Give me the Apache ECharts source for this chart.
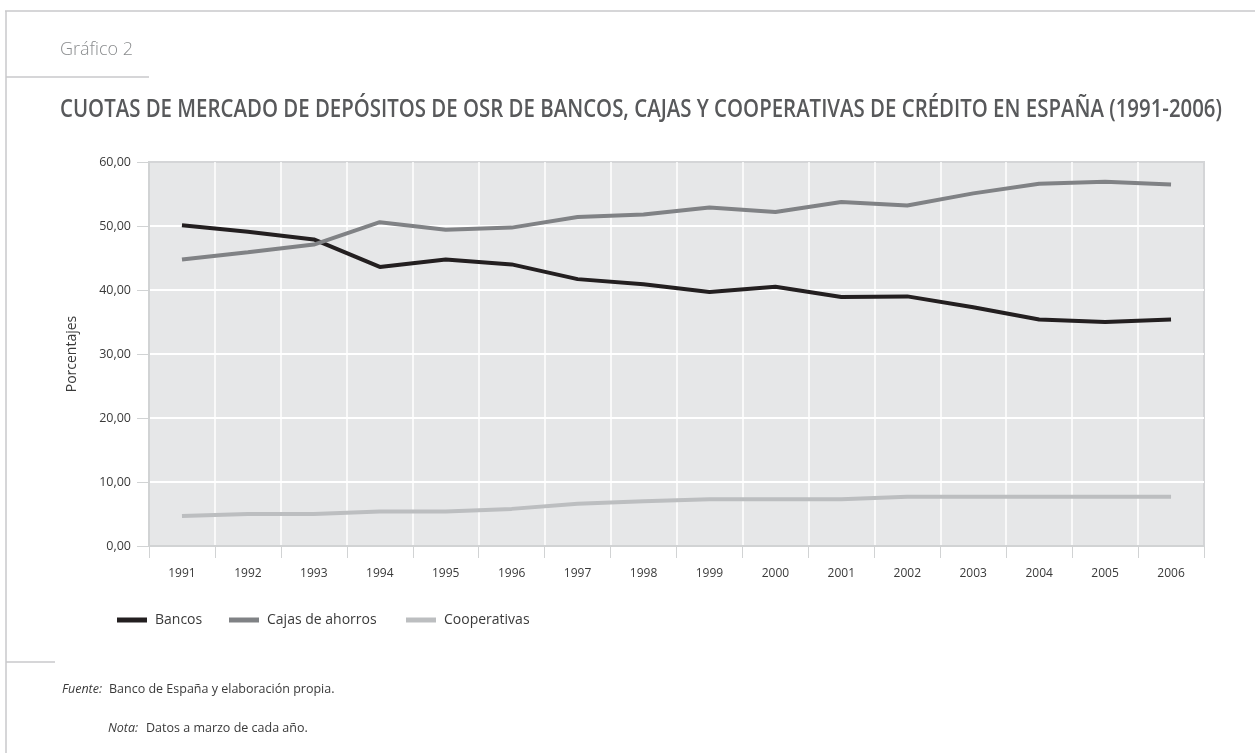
<!DOCTYPE html>
<html>
<head>
<meta charset="utf-8">
<script src="https://cdn.jsdelivr.net/npm/echarts@6/dist/echarts.min.js"></script>
<style>
html,body{margin:0;padding:0;background:#fff;}
#chart{width:1255px;height:753px;}
</style>
</head>
<body>
<div id="chart"></div>
<script>
const years = ['1991','1992','1993','1994','1995','1996','1997','1998','1999','2000','2001','2002','2003','2004','2005','2006'];
const bancos = [50.1, 49.1, 47.9, 43.6, 44.75, 44.0, 41.7, 40.9, 39.7, 40.5, 38.9, 39.0, 37.3, 35.4, 35.0, 35.4];
const cajas = [44.75, 45.9, 47.1, 50.6, 49.4, 49.75, 51.4, 51.8, 52.9, 52.2, 53.75, 53.2, 55.1, 56.6, 56.9, 56.5];
const cooperativas = [4.7, 5.0, 5.0, 5.4, 5.4, 5.8, 6.6, 7.0, 7.3, 7.3, 7.3, 7.7, 7.7, 7.7, 7.7, 7.7];
const seriesNames = ['Bancos', 'Cajas de ahorros', 'Cooperativas'];
const titleText = 'CUOTAS DE MERCADO DE DEPÓSITOS DE OSR DE BANCOS, CAJAS Y COOPERATIVAS DE CRÉDITO EN ESPAÑA (1991-2006)';

const FONT = '"Open Sans", "Noto Sans", sans-serif';
const colors = ['#231f20', '#808285', '#bcbec0'];
const TITLE_FONT = '600 26px ' + FONT;

// measure title to fit the reference width
const mctx = document.createElement('canvas').getContext('2d');
mctx.font = TITLE_FONT;
const titleW = mctx.measureText(titleText).width;
const titleScale = 1162 / titleW;

const chart = echarts.init(document.getElementById('chart'), null, {renderer: 'canvas'});
const lineColor = '#c8c9cb';

const option = {
  backgroundColor: '#ffffff',
  animation: false,
  grid: {
    left: 149, top: 162, width: 1055, height: 384,
    show: true, backgroundColor: '#e6e7e8', borderColor: '#d4d5d7', borderWidth: 2
  },
  legend: [0,1,2].map((i) => ({
    data: [seriesNames[i]],
    left: [112, 224, 401][i],
    top: 608,
    icon: 'rect',
    itemWidth: 30,
    itemHeight: 5,
    textStyle: {fontFamily: FONT, fontSize: 14, color: '#3a3a3a', padding: [0,0,0,3]}
  })),
  xAxis: {
    type: 'category',
    data: years,
    boundaryGap: true,
    axisLine: {show: true, lineStyle: {color: '#d1d3d4', width: 2}},
    axisTick: {show: true, length: 12, lineStyle: {color: '#d1d3d4', width: 1}},
    axisLabel: {fontFamily: FONT, fontSize: 12, color: '#3a3a3a', margin: 22},
    splitLine: {show: true, interval: 0, showMinLine: false, showMaxLine: false, lineStyle: {color: '#ffffff', width: 1.5}}
  },
  yAxis: {
    type: 'value',
    min: 0, max: 60, interval: 10,
    name: 'Porcentajes',
    nameLocation: 'middle',
    nameGap: 70,
    nameTextStyle: {fontFamily: FONT, fontSize: 14, color: '#3a3a3a'},
    axisLine: {show: true, lineStyle: {color: '#d1d3d4', width: 2}},
    axisTick: {show: true, length: 12, lineStyle: {color: '#d1d3d4', width: 1}},
    axisLabel: {
      fontFamily: FONT, fontSize: 12.5, color: '#3a3a3a', margin: 18,
      formatter: (v) => v.toFixed(2).replace('.', ',')
    },
    splitLine: {show: true, showMinLine: false, showMaxLine: false, lineStyle: {color: '#ffffff', width: 2}}
  },
  series: [bancos, cajas, cooperativas].map((d, i) => ({
    name: seriesNames[i],
    type: 'line',
    data: d,
    symbol: 'none',
    color: colors[i],
    lineStyle: {width: 4, color: colors[i], cap: 'butt'},
    z: 3 + i
  })),
  graphic: [
    {type: 'line', shape: {x1: 5, y1: 11, x2: 1255, y2: 11}, style: {stroke: lineColor, lineWidth: 1.5}},
    {type: 'line', shape: {x1: 6, y1: 11, x2: 6, y2: 753}, style: {stroke: lineColor, lineWidth: 1.5}},
    {type: 'line', shape: {x1: 6, y1: 77, x2: 149, y2: 77}, style: {stroke: lineColor, lineWidth: 1.5}},
    {type: 'line', shape: {x1: 6, y1: 662, x2: 55, y2: 662}, style: {stroke: lineColor, lineWidth: 1.5}},
    {type: 'text', x: 60, y: 50, style: {text: 'Gráfico 2', font: '300 18px ' + FONT, fill: '#8a8c8e', textVerticalAlign: 'middle'}},
    {type: 'text', x: 60, y: 110, scaleX: titleScale, style: {text: titleText, font: TITLE_FONT, fill: '#58595b', textVerticalAlign: 'middle'}},
    {type: 'text', x: 62, y: 689, style: {text: 'Fuente:', font: 'italic 12.5px ' + FONT, fill: '#3a3a3a', textVerticalAlign: 'middle'}},
    {type: 'text', x: 109, y: 689, style: {text: 'Banco de España y elaboración propia.', font: '12.5px ' + FONT, fill: '#3a3a3a', textVerticalAlign: 'middle'}},
    {type: 'text', x: 108, y: 728, style: {text: 'Nota:', font: 'italic 12.5px ' + FONT, fill: '#3a3a3a', textVerticalAlign: 'middle'}},
    {type: 'text', x: 146, y: 728, style: {text: 'Datos a marzo de cada año.', font: '12.5px ' + FONT, fill: '#3a3a3a', textVerticalAlign: 'middle'}}
  ]
};
chart.setOption(option);
</script>
</body>
</html>
